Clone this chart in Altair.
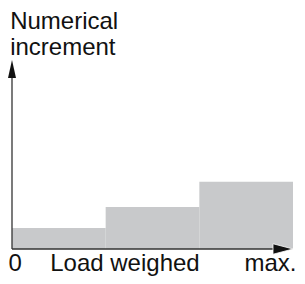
import altair as alt
import pandas as pd

# step bars
step_start = [0, 1, 2]
step_end = [1, 2, 3]
step_value = [1.0, 2.0, 3.2]

# axis labels
x_labels = ["0", "Load weighed", "max."]
x_label_pos = [0.035, 1.206, 2.76]
y_title_lines = ["Numerical", "increment"]

FONT = "Liberation Sans"
FS = 24
XS = alt.Scale(domain=[0, 3], nice=False, zero=False)
YS = alt.Scale(domain=[0, 9], nice=False, zero=False)

bars_df = pd.DataFrame({"x0": step_start, "x1": step_end, "v": step_value})
bars = alt.Chart(bars_df).mark_rect(color="#c8c9cb").encode(
    x=alt.X("x0:Q", scale=XS, axis=None),
    x2="x1:Q",
    y=alt.Y("v:Q", scale=YS, axis=None),
    y2=alt.datum(0),
)

axes_df = pd.DataFrame({"x0": [0, 0], "x1": [2.9, 0], "y0": [0, 0], "y1": [0, 8.5]})
axis_lines = alt.Chart(axes_df).mark_rule(color="#333333", strokeWidth=1.3).encode(
    x=alt.X("x0:Q", scale=XS), x2="x1:Q",
    y=alt.Y("y0:Q", scale=YS), y2="y1:Q",
)

xarrow = alt.Chart(pd.DataFrame({"x": [3], "y": [0]})).mark_point(
    shape="M0,0L-4,-1.05L-4,1.05Z", size=100, filled=True, color="#111111",
    opacity=1, stroke="white", strokeWidth=0.8,
).encode(x=alt.X("x:Q", scale=XS), y=alt.Y("y:Q", scale=YS))

yarrow = alt.Chart(pd.DataFrame({"x": [0], "y": [9]})).mark_point(
    shape="M0,0L0.8,3.6L-0.8,3.6Z", size=100, filled=True, color="#111111",
    opacity=1, strokeWidth=0,
).encode(x=alt.X("x:Q", scale=XS), y=alt.Y("y:Q", scale=YS))

xl_df = pd.DataFrame({"t": x_labels, "x": x_label_pos, "y": [-1.05] * 3})
xlabels = alt.Chart(xl_df).mark_text(
    font=FONT, fontSize=FS, color="#111111", align="center", baseline="alphabetic"
).encode(x=alt.X("x:Q", scale=XS), y=alt.Y("y:Q", scale=YS), text="t:N")

yt_df = pd.DataFrame({"t": y_title_lines, "x": [-0.02, -0.02], "y": [10.5, 9.24]})
ytitle = alt.Chart(yt_df).mark_text(
    font=FONT, fontSize=FS, color="#111111", align="left", baseline="alphabetic"
).encode(x=alt.X("x:Q", scale=XS), y=alt.Y("y:Q", scale=YS), text="t:N")

chart = alt.layer(bars, axis_lines, xarrow, yarrow, xlabels, ytitle).properties(
    width=281, height=189,
    padding={"left": 4, "top": 52, "right": 4, "bottom": 27},
    autosize=alt.AutoSizeParams(type="none"),
).configure_view(stroke=None)

chart.save("out.html", embed_options={"renderer": "svg", "actions": False})
